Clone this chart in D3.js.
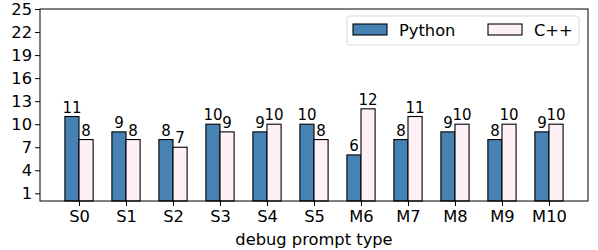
<!DOCTYPE html>
<html>
<head>
<meta charset="utf-8">
<script src="https://cdn.jsdelivr.net/npm/d3@7"></script>
<style>
  body { margin: 0; background: #fff; }
  text { font-family: "DejaVu Sans", sans-serif; fill: #000; }
</style>
</head>
<body>
<div id="chart"></div>
<script>
"use strict";

var categories = ["S0","S1","S2","S3","S4","S5","M6","M7","M8","M9","M10"];
var python = [11, 9, 8, 10, 9, 10, 6, 8, 9, 8, 9];
var cpp = [8, 8, 7, 9, 10, 8, 12, 11, 10, 10, 10];
var yTicks = [1, 4, 7, 10, 13, 16, 19, 22, 25];
var seriesNames = ["Python", "C++"];
var colors = ["#4682b4", "#fff0f5"];

var width = 598, height = 250;
var margin = { top: 9, right: 10, bottom: 49, left: 40 };
var barW = 0.3;
var bigFont = "16.3px", smallFont = "15px";

var svg = d3.select("#chart").append("svg")
    .attr("width", width)
    .attr("height", height);

var x = d3.scaleLinear()
    .domain([-0.83, categories.length - 1 + 0.83])
    .range([margin.left, width - margin.right]);

var y = d3.scaleLinear()
    .domain([0, 25])
    .range([height - margin.bottom, margin.top]);

var series = [python, cpp];

series.forEach(function(vals, s) {
  var g = svg.append("g");
  g.selectAll("rect")
    .data(vals)
    .enter().append("rect")
      .attr("x", function(d, i) { return x(i + (s - 1) * barW); })
      .attr("y", function(d) { return y(d); })
      .attr("width", x(barW) - x(0))
      .attr("height", function(d) { return y(0) - y(d); })
      .style("fill", colors[s])
      .style("stroke", "#000")
      .style("stroke-width", 1.1);
  g.selectAll("text")
    .data(vals)
    .enter().append("text")
      .attr("x", function(d, i) { return x(i + (s - 0.5) * barW); })
      .attr("y", function(d) { return y(d) - 4; })
      .attr("text-anchor", "middle")
      .style("font-size", smallFont)
      .text(function(d) { return d; });
});

// axes
var xAxis = d3.axisBottom(x)
    .tickValues(d3.range(categories.length))
    .tickFormat(function(d) { return categories[d]; })
    .tickSize(5).tickPadding(4);
var yAxis = d3.axisLeft(y)
    .tickValues(yTicks)
    .tickSize(5).tickPadding(3);

var gx = svg.append("g")
    .attr("transform", "translate(0," + y(0) + ")")
    .call(xAxis);
var gy = svg.append("g")
    .attr("transform", "translate(" + margin.left + ",0)")
    .call(yAxis);
[gx, gy].forEach(function(g) {
  g.select(".domain").remove();
  g.selectAll("line").style("stroke", "#000").style("stroke-width", 1);
  g.selectAll("text").style("font-size", bigFont).style("font-family", "DejaVu Sans");
});

// frame
svg.append("rect")
    .attr("x", margin.left)
    .attr("y", margin.top)
    .attr("width", width - margin.right - margin.left)
    .attr("height", y(0) - margin.top)
    .style("fill", "none")
    .style("stroke", "#000")
    .style("stroke-width", 1);

svg.append("text")
    .attr("x", (margin.left + width - margin.right) / 2)
    .attr("y", 245)
    .attr("text-anchor", "middle")
    .style("font-size", bigFont)
    .text("debug prompt type");

// legend
var legend = svg.append("g");
legend.append("rect")
    .attr("x", 347).attr("y", 16)
    .attr("width", 232).attr("height", 29)
    .attr("rx", 3)
    .style("fill", "#fff")
    .style("fill-opacity", 0.8)
    .style("stroke", "#d9d9d9");
var legX = [353, 488];
seriesNames.forEach(function(name, s) {
  legend.append("rect")
    .attr("x", legX[s]).attr("y", 24)
    .attr("width", 34).attr("height", 11)
    .style("fill", colors[s])
    .style("stroke", "#000")
    .style("stroke-width", 1.1);
  legend.append("text")
    .attr("x", legX[s] + 46).attr("y", 36)
    .style("font-size", bigFont)
    .text(name);
});
</script>
</body>
</html>
